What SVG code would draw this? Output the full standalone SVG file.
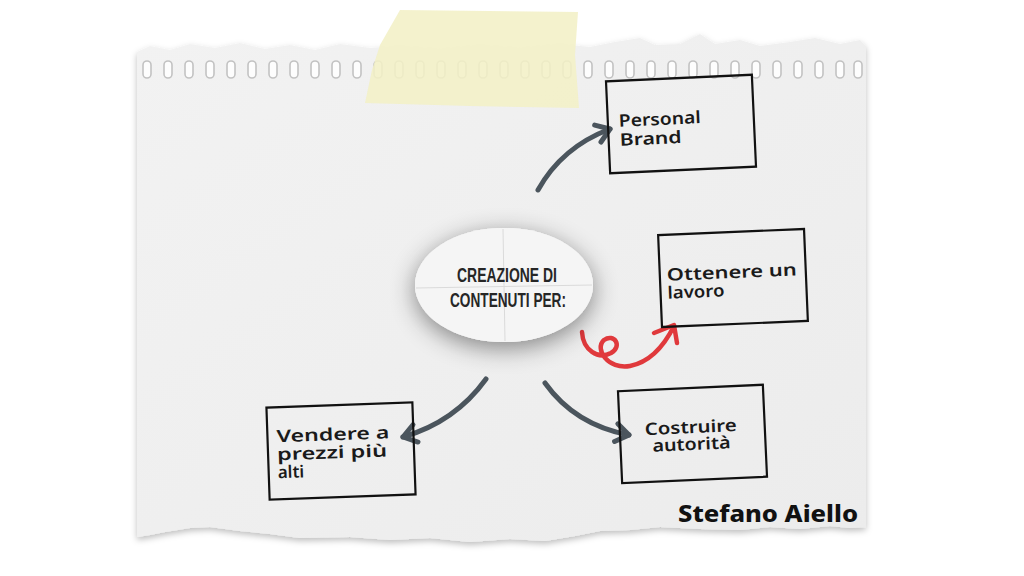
<svg xmlns="http://www.w3.org/2000/svg" width="1024" height="576" viewBox="0 0 1024 576">
<style>
.box{fill:none;stroke:#111;stroke-width:2.2}
.lbl{font-family:"Noto Sans","DejaVu Sans",sans-serif;font-size:17px;font-weight:600;fill:#1a1a1a}
.conn{fill:none;stroke:#4b555d;stroke-width:5;stroke-linecap:round}
.red{fill:none;stroke:#e0393c;stroke-width:4.5;stroke-linecap:round;stroke-linejoin:round}
.hole{fill:#fdfdfd;stroke:#c2c2c2;stroke-width:1.6}
.ctr{font-family:"Liberation Sans",sans-serif;font-weight:700;font-size:21px;fill:#262626}
</style>
<defs>
<filter id="pshadow" x="-5%" y="-5%" width="110%" height="115%">
<feDropShadow dx="0" dy="3" stdDeviation="3" flood-color="#000" flood-opacity="0.25"/>
</filter>
<filter id="eshadow" x="-40%" y="-60%" width="180%" height="220%">
<feDropShadow dx="0" dy="6" stdDeviation="12" flood-color="#000" flood-opacity="0.45"/>
</filter>
<marker id="ah" viewBox="0 0 20 20" refX="16" refY="10" markerWidth="20" markerHeight="20" markerUnits="userSpaceOnUse" orient="auto" overflow="visible">
<path d="M3,1 L16,10 L3,19" fill="none" stroke="#4b555d" stroke-width="5" stroke-linecap="round" stroke-linejoin="round"/>
</marker>
<linearGradient id="paperg" x1="0" y1="0" x2="1" y2="1">
<stop offset="0" stop-color="#f2f2f2"/>
<stop offset="1" stop-color="#ececec"/>
</linearGradient>
</defs>
<rect width="1024" height="576" fill="#ffffff"/>
<g id="paper">
<path filter="url(#pshadow)" fill="url(#paperg)" d="M137,52 L150,46 L170,50 L190,44 L215,48 L240,43 L265,49 L290,45 L315,50 L340,44 L370,48 L400,46 L440,49 L480,45 L520,48 L560,44 L590,47 L615,42 L640,38 L655,45 L680,44 L700,34 L715,44 L740,40 L760,46 L790,42 L815,38 L840,44 L860,40 L866,46 L866,527 L850,528 L830,526 L800,529 L770,527 L740,530 L700,529 L660,527 L630,530 L600,531 L575,536 L545,541 L510,539 L470,542 L430,538 L390,540 L350,537 L300,538 L270,534 L240,531 L210,527 L190,528 L165,532 L150,535 L137,537 Z"/>
<g>
<rect class="hole" x="143" y="61" width="8" height="17" rx="4"/>
<rect class="hole" x="164" y="61" width="8" height="17" rx="4"/>
<rect class="hole" x="185" y="61" width="8" height="17" rx="4"/>
<rect class="hole" x="206" y="61" width="8" height="17" rx="4"/>
<rect class="hole" x="227" y="61" width="8" height="17" rx="4"/>
<rect class="hole" x="248" y="61" width="8" height="17" rx="4"/>
<rect class="hole" x="269" y="61" width="8" height="17" rx="4"/>
<rect class="hole" x="290" y="61" width="8" height="17" rx="4"/>
<rect class="hole" x="311" y="61" width="8" height="17" rx="4"/>
<rect class="hole" x="332" y="61" width="8" height="17" rx="4"/>
<rect class="hole" x="353" y="61" width="8" height="17" rx="4"/>
<rect class="hole" x="374" y="61" width="8" height="17" rx="4"/>
<rect class="hole" x="395" y="61" width="8" height="17" rx="4"/>
<rect class="hole" x="416" y="61" width="8" height="17" rx="4"/>
<rect class="hole" x="437" y="61" width="8" height="17" rx="4"/>
<rect class="hole" x="458" y="61" width="8" height="17" rx="4"/>
<rect class="hole" x="479" y="61" width="8" height="17" rx="4"/>
<rect class="hole" x="500" y="61" width="8" height="17" rx="4"/>
<rect class="hole" x="521" y="61" width="8" height="17" rx="4"/>
<rect class="hole" x="542" y="61" width="8" height="17" rx="4"/>
<rect class="hole" x="563" y="61" width="8" height="17" rx="4"/>
<rect class="hole" x="584" y="61" width="8" height="17" rx="4"/>
<rect class="hole" x="605" y="61" width="8" height="17" rx="4"/>
<rect class="hole" x="626" y="61" width="8" height="17" rx="4"/>
<rect class="hole" x="647" y="61" width="8" height="17" rx="4"/>
<rect class="hole" x="668" y="61" width="8" height="17" rx="4"/>
<rect class="hole" x="689" y="61" width="8" height="17" rx="4"/>
<rect class="hole" x="710" y="61" width="8" height="17" rx="4"/>
<rect class="hole" x="731" y="61" width="8" height="17" rx="4"/>
<rect class="hole" x="752" y="61" width="8" height="17" rx="4"/>
<rect class="hole" x="773" y="61" width="8" height="17" rx="4"/>
<rect class="hole" x="794" y="61" width="8" height="17" rx="4"/>
<rect class="hole" x="815" y="61" width="8" height="17" rx="4"/>
<rect class="hole" x="836" y="61" width="8" height="17" rx="4"/>
<rect class="hole" x="854" y="61" width="8" height="17" rx="4"/>
</g>
</g>
<g id="tape">
<path d="M400,10 L578,12 L575,55 L579,108 L470,106 L365,103 L372,70 L380,45 Z" fill="#f3f0c6" fill-opacity="0.88"/>
</g>
<g id="connectors">
<path class="conn" d="M538,190 Q562,147 610,129" marker-end="url(#ah)"/>
<path class="conn" d="M486,379 Q455,422 403,437" marker-end="url(#ah)"/>
<path class="conn" d="M545,383 Q575,425 629,435" marker-end="url(#ah)"/>
<path class="red" d="M582,332 C583,350 598,360 611,353 C623,346 614,333 604,340 C594,349 608,370 630,366 C650,362 664,346 674,326"/>
<path class="red" d="M654,333 L674,325 L677,343"/>
</g>
<g id="center">
<ellipse cx="504" cy="285" rx="89" ry="57" fill="#f4f4f4" filter="url(#eshadow)"/>
<ellipse cx="504" cy="285" rx="89" ry="57" fill="#f5f5f5"/>
<path d="M503,229 L505,341 M416,288 L592,285" stroke="#dadada" stroke-width="1" fill="none"/>
<text class="ctr" x="457" y="282" textLength="100" lengthAdjust="spacingAndGlyphs">CREAZIONE DI</text>
<text class="ctr" x="450" y="306.5" textLength="116" lengthAdjust="spacingAndGlyphs">CONTENUTI PER:</text>
</g>
<g id="node-personal" transform="rotate(-2.6 681 124)">
<rect class="box" x="608" y="78" width="146" height="92"/>
<text class="lbl" x="619" y="124" textLength="82" lengthAdjust="spacingAndGlyphs">Personal</text>
<text class="lbl" x="619" y="143" textLength="62" lengthAdjust="spacingAndGlyphs">Brand</text>
</g>
<g id="node-ottenere" transform="rotate(-2.4 733 278)">
<rect class="box" x="660" y="232" width="146" height="92"/>
<text class="lbl" x="667" y="278" textLength="130" lengthAdjust="spacingAndGlyphs">Ottenere un</text>
<text class="lbl" x="667" y="296" textLength="57" lengthAdjust="spacingAndGlyphs">lavoro</text>
</g>
<g id="node-vendere" transform="rotate(-2 341 451)">
<rect class="box" x="268" y="405" width="146" height="92"/>
<text class="lbl" x="277" y="440" textLength="113" lengthAdjust="spacingAndGlyphs">Vendere a</text>
<text class="lbl" x="277" y="458" textLength="110" lengthAdjust="spacingAndGlyphs">prezzi più</text>
<text class="lbl" x="277" y="476">alti</text>
</g>
<g id="node-costruire" transform="rotate(-2.6 692 434)">
<rect class="box" x="620" y="388" width="145" height="92"/>
<text class="lbl" x="691" y="433" text-anchor="middle" textLength="92" lengthAdjust="spacingAndGlyphs">Costruire</text>
<text class="lbl" x="691" y="450" text-anchor="middle" textLength="78" lengthAdjust="spacingAndGlyphs">autorità</text>
</g>
<g id="signature">
<text x="678" y="522" font-family="Noto Sans, DejaVu Sans, sans-serif" font-weight="800" font-size="23" fill="#111" textLength="180" lengthAdjust="spacingAndGlyphs">Stefano Aiello</text>
</g>
</svg>
